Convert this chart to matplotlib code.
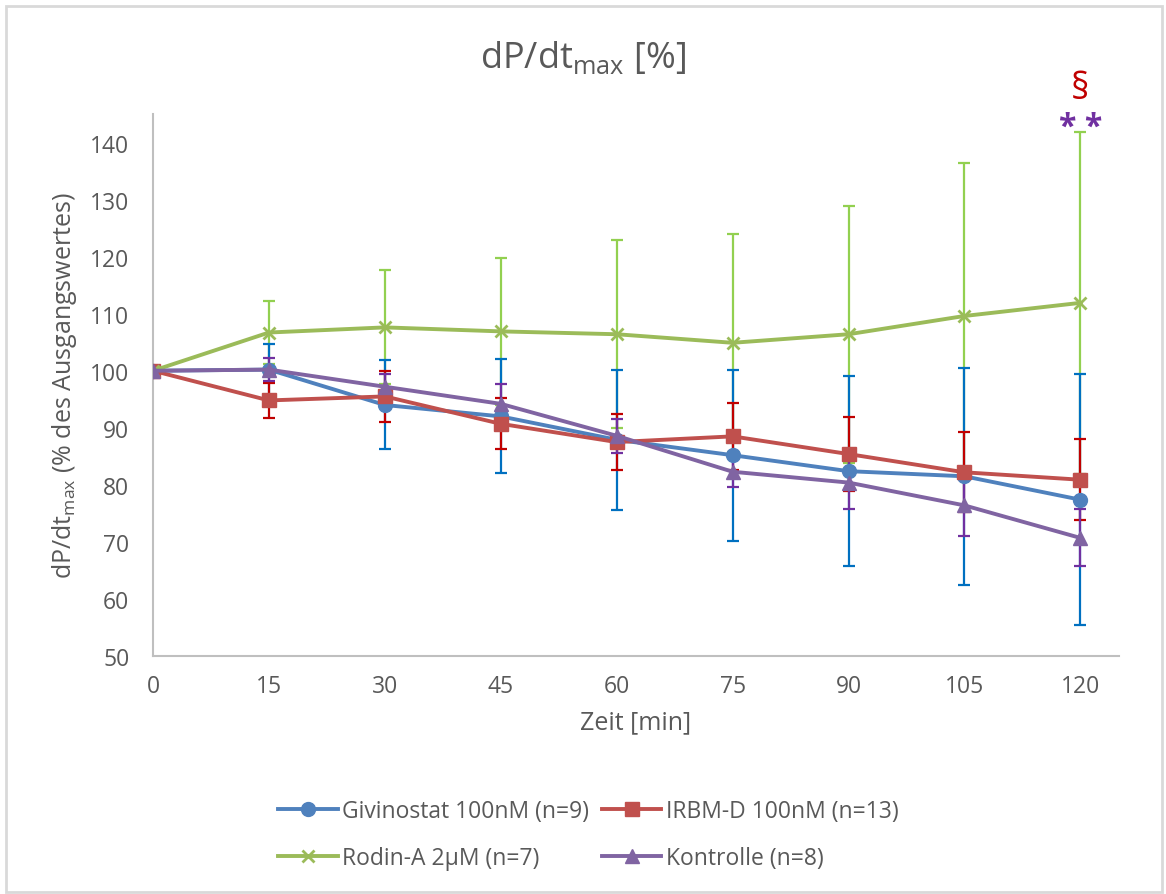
import numpy as np
import matplotlib.pyplot as plt
from matplotlib.patches import Rectangle

plt.rcParams['font.family'] = ['Open Sans', 'DejaVu Sans']
plt.rcParams['mathtext.fontset'] = 'custom'
plt.rcParams['mathtext.rm'] = 'Open Sans'
plt.rcParams['mathtext.it'] = 'Open Sans'

# time points [min]
zeit = [0, 15, 30, 45, 60, 75, 90, 105, 120]

# means (% of baseline)
givinostat = [100, 100.2, 94.0, 92.0, 87.9, 85.2, 82.4, 81.5, 77.4]
irbm = [100, 94.8, 95.5, 90.7, 87.5, 88.5, 85.4, 82.2, 80.9]
rodin = [100, 106.7, 107.6, 106.9, 106.4, 104.9, 106.4, 109.6, 111.9]
kontrolle = [100, 100.2, 97.2, 94.2, 88.6, 82.3, 80.4, 76.4, 70.7]

# standard deviations
givinostat_sd = [0, 4.5, 7.8, 10.0, 12.3, 15.0, 16.6, 19.0, 22.0]
irbm_sd = [0, 3.1, 4.4, 4.5, 4.9, 5.9, 6.5, 7.0, 7.1]
rodin_sd = [0, 5.6, 10.0, 12.9, 16.5, 19.1, 22.5, 26.8, 30.0]
kontrolle_sd = [0, 2.0, 2.2, 3.5, 3.0, 2.6, 4.7, 5.3, 5.0]

labels = ['Givinostat 100nM (n=9)', 'IRBM-D 100nM (n=13)',
          'Rodin-A 2µM (n=7)', 'Kontrolle (n=8)']

grau = '#595959'

fig = plt.figure(figsize=(11.66, 8.95), dpi=100)
ax = fig.add_axes([0.1312, 0.2659, 0.8285, 0.6056])

# error bars first, green one at the bottom
ax.errorbar(zeit, rodin, yerr=rodin_sd, fmt='none', ecolor='#92D050',
            elinewidth=1.6, capsize=4.5, capthick=1.6, zorder=1)
ax.errorbar(zeit, givinostat, yerr=givinostat_sd, fmt='none', ecolor='#0070C0',
            elinewidth=1.6, capsize=4.5, capthick=1.6, zorder=2)
ax.errorbar(zeit, irbm, yerr=irbm_sd, fmt='none', ecolor='#C00000',
            elinewidth=1.6, capsize=4.5, capthick=1.6, zorder=2)
ax.errorbar(zeit, kontrolle, yerr=kontrolle_sd, fmt='none', ecolor='#7030A0',
            elinewidth=1.6, capsize=4.5, capthick=1.6, zorder=2)

l1, = ax.plot(zeit, givinostat, color='#4F81BD', lw=2.8, marker='o', ms=10, zorder=3)
l2, = ax.plot(zeit, irbm, color='#C0504D', lw=2.8, marker='s', ms=9.5, zorder=4)
l3, = ax.plot(zeit, rodin, color='#9BBB59', lw=2.8, marker='x', ms=9, mew=2, zorder=5)
l4, = ax.plot(zeit, kontrolle, color='#8064A2', lw=2.8, marker='^', ms=10.5, zorder=6)

# significance markers at 120 min
ax.text(120, 149.3, '§', color='#C00000', fontsize=26, ha='center', va='center', clip_on=False)
ax.text(120, 142.6, '* *', color='#7030A0', fontsize=23, ha='center', va='center',
        fontweight='bold', clip_on=False)

ax.set_xlim(0, 125)
ax.set_ylim(50, 145)
ax.set_xticks(zeit)
ax.set_yticks(np.arange(50, 141, 10))
ax.tick_params(length=0, labelsize=16.5, labelcolor=grau)
ax.tick_params(axis='x', pad=13)
ax.tick_params(axis='y', pad=17)
for side in ['top', 'right']:
    ax.spines[side].set_visible(False)
for side in ['left', 'bottom']:
    ax.spines[side].set_color('#BFBFBF')
    ax.spines[side].set_linewidth(1.5)

ax.set_xlabel('Zeit [min]', fontsize=18, color=grau, labelpad=8)
ax.set_ylabel(r'dP/dt$_{\mathrm{max}}$ (% des Ausgangswertes)', fontsize=18, color=grau, labelpad=8)
fig.text(0.5, 0.935, r'dP/dt$_{\mathrm{max}}$ [%]', fontsize=26, color=grau,
         ha='center', va='center')

fig.legend([l1, l3, l2, l4], [labels[0], labels[2], labels[1], labels[3]],
           ncol=2, loc='center', bbox_to_anchor=(0.5047, 0.066), frameon=False,
           fontsize=16.5, labelcolor=grau, handlelength=2.6, handletextpad=0.2,
           columnspacing=0.55, labelspacing=1.0)

# chart border
fig.patches.append(Rectangle((6 / 1166, 0.002), 1 - 10 / 1166, 1 - 9 / 895,
                             transform=fig.transFigure, fill=False,
                             edgecolor='#D9D9D9', lw=2))

fig.savefig('out.png', dpi=100)
